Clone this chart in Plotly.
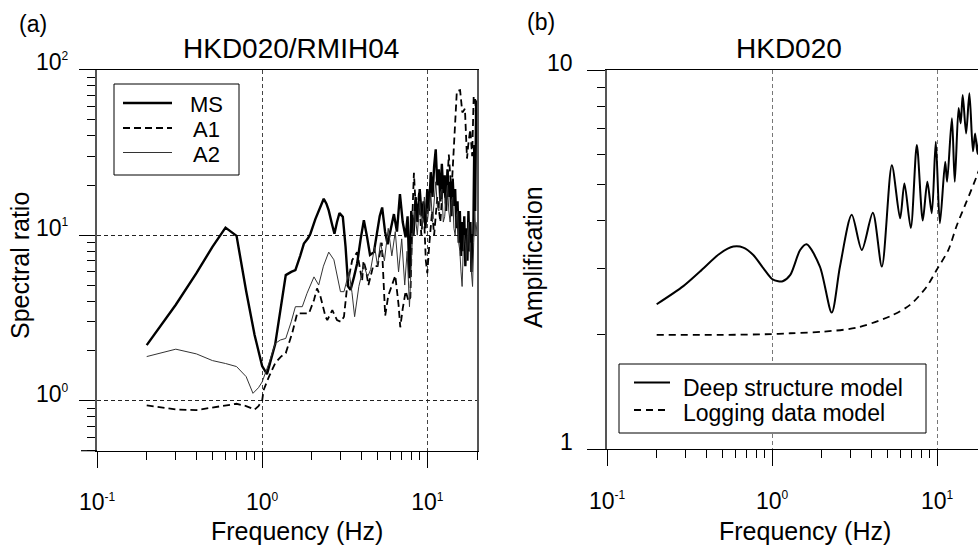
import math
import plotly.graph_objects as go

# ---------------- panel (a): HKD020/RMIH04 spectral ratios ----------------
freq_ms = [0.2, 0.3, 0.4, 0.5, 0.6, 0.7, 0.8, 0.9, 1.0, 1.07, 1.2, 1.3, 1.39, 1.5, 1.59,
           1.7, 1.79, 1.9, 1.96, 2.1, 2.2, 2.36, 2.45, 2.53, 2.64, 2.74, 2.84, 2.94, 3.08,
           3.2, 3.32, 3.43, 3.6, 3.76, 3.95, 4.13, 4.3, 4.5, 4.75, 5.0, 5.15, 5.33, 5.55,
           5.75, 6.0, 6.28, 6.55, 6.83, 7.1, 7.39, 7.6, 7.8, 8.0, 8.25, 8.5, 8.75, 9.0,
           9.25, 9.5, 9.75, 10.0, 10.25, 10.5, 10.75, 11.0, 11.25, 11.5, 11.75, 12.0,
           12.25, 12.5, 12.75, 13.0, 13.25, 13.5, 13.75, 14.0, 14.25, 14.5, 14.75, 15.0,
           15.25, 15.5, 15.75, 16.0, 16.25, 16.5, 16.75, 17.0, 17.25, 17.5, 17.75, 18.0,
           18.25, 18.5, 18.75, 19.0, 19.25, 19.5, 19.75, 20.0]
ms = [2.17, 3.8, 5.9, 8.5, 11.1, 9.9, 4.6, 2.5, 1.62, 1.45, 2.2, 3.6, 5.74, 6.0, 6.15,
      7.5, 8.9, 9.6, 10.2, 12.5, 14.1, 16.6, 15.5, 14.1, 11.8, 10.2, 12.0, 13.6, 12.9,
      8.5, 4.9, 4.67, 5.6, 6.75, 9.5, 12.3, 10.0, 7.6, 7.9, 10.5, 13.0, 14.7, 10.5,
      8.8, 11.0, 13.4, 10.5, 17.7, 12.0, 9.7, 13.0, 5.5, 14.0, 10.0, 17.0, 12.0, 19.0,
      13.0, 16.0, 11.0, 19.0, 14.0, 24.0, 17.0, 26.0, 33.0, 20.0, 25.0, 16.0,
      27.0, 18.0, 23.0, 14.0, 25.0, 17.0, 21.0, 13.0, 22.0, 15.0, 19.0, 11.0,
      16.0, 9.0, 14.0, 7.5, 12.0, 8.0, 13.0, 6.5, 11.0, 7.0, 14.0, 8.0,
      12.0, 6.0, 10.0, 10.0, 35.0, 14.0, 60.0, 65.0]

freq_a1 = [0.2, 0.3, 0.4, 0.5, 0.6, 0.7, 0.8, 0.9, 0.95, 1.0, 1.02, 1.1, 1.2, 1.3, 1.39,
           1.52, 1.63, 1.75, 1.92, 2.06, 2.15, 2.25, 2.42, 2.48, 2.66, 2.84, 3.0, 3.13,
           3.27, 3.51, 3.76, 4.03, 4.11, 4.25, 4.4, 4.7, 5.0, 5.3, 5.56, 5.8, 6.1, 6.4,
           6.7, 6.86, 7.1, 7.4, 7.7, 7.9, 8.1, 8.3, 8.6, 8.9, 9.2, 9.5, 9.8, 10.0, 10.3,
           10.7, 11.0, 11.5, 12.0, 12.5, 13.0, 13.5, 14.0, 14.5, 15.1, 15.8, 16.3, 16.9,
           17.4, 17.7, 18.2, 18.7, 19.1, 19.5, 20.0]
a1 = [0.94, 0.886, 0.88, 0.91, 0.94, 0.96, 0.93, 0.886, 0.93, 1.0, 1.16, 1.4, 1.69, 1.85, 1.94,
      2.56, 3.37, 3.37, 3.37, 4.06, 4.77, 4.3, 3.22, 3.07, 3.53, 3.07, 3.0, 3.22,
      4.9, 7.07, 7.9, 5.3, 7.0, 6.2, 5.0, 6.5, 6.5, 9.0, 3.26, 4.3, 5.0, 5.7,
      3.8, 2.78, 3.6, 4.6, 4.0, 4.2, 12.0, 23.8, 12.0, 18.0, 10.0, 15.0, 7.0, 5.9, 9.0,
      14.0, 10.0, 17.0, 12.0, 22.0, 15.0, 30.7, 18.0, 35.0, 74.0, 75.0, 55.0, 58.0,
      29.0, 35.0, 43.5, 30.0, 69.0, 67.0, 40.0]

freq_a2 = [0.2, 0.3, 0.4, 0.5, 0.6, 0.7, 0.8, 0.88, 0.95, 1.0, 1.1, 1.2, 1.29, 1.39, 1.5,
           1.59, 1.75, 1.87, 2.06, 2.2, 2.35, 2.53, 2.72, 2.85, 2.98, 3.13, 3.36, 3.5,
           3.63, 3.85, 4.13, 4.35, 4.54, 4.8, 5.0, 5.2, 5.5, 5.8, 6.1, 6.4, 6.7, 7.0,
           7.3, 7.55, 7.8, 8.1, 8.4, 8.7, 9.0, 9.3, 9.6, 10.0, 10.25, 10.5, 10.75, 11.0,
           11.25, 11.5, 11.75, 12.0, 12.25, 12.5, 12.75, 13.0, 13.25, 13.5, 13.75, 14.0,
           14.25, 14.5, 14.75, 15.0, 15.25, 15.5, 15.75, 16.0, 16.25, 16.5, 16.75, 17.0,
           17.25, 17.5, 17.75, 18.0, 18.25, 18.5, 18.8, 19.1, 19.4, 19.7, 20.0]
a2 = [1.85, 2.05, 1.92, 1.75, 1.68, 1.61, 1.4, 1.11, 1.2, 1.3, 1.69, 2.22, 2.33, 2.38, 3.0,
      3.7, 3.7, 4.46, 5.6, 5.0, 6.5, 7.9, 7.1, 5.5, 4.56, 4.56, 6.0, 4.5,
      3.22, 4.9, 6.6, 5.6, 6.2, 8.5, 6.5, 9.0, 7.0, 11.0, 7.5, 10.5, 6.0, 9.5,
      5.0, 8.0, 3.7, 9.0, 14.0, 10.0, 16.0, 11.0, 17.0, 12.0, 15.0, 18.0, 12.0, 16.0,
      21.0, 15.0, 14.0, 18.0, 19.0, 12.0, 13.0, 17.0, 20.0, 14.0, 12.0, 16.0,
      17.0, 11.0, 10.0, 13.0, 14.0, 9.0, 8.0, 6.0, 4.9, 8.0, 10.0, 9.0,
      7.0, 10.0, 12.0, 8.0, 9.0, 6.0, 4.9, 9.0, 14.0, 10.0, 12.0]

# ---------------- panel (b): HKD020 amplification ----------------
freq_deep = [0.2, 0.29, 0.366, 0.484, 0.583, 0.67, 0.77, 0.885, 1.0, 1.09, 1.16, 1.29,
             1.48, 1.62, 1.95, 2.3, 2.58, 3.04, 3.5, 4.08, 4.63, 5.32, 5.97, 6.34, 6.93,
             7.54, 8.19, 8.73, 9.29, 9.82, 10.4, 11.2, 11.5, 12.3, 12.8, 13.5, 13.9,
             14.3, 15.0, 15.7, 16.5, 17.0, 17.6, 18.2]
deep = [2.41, 2.69, 2.94, 3.28, 3.42, 3.40, 3.25, 3.0, 2.81, 2.77, 2.77, 2.88,
        3.35, 3.47, 3.03, 2.29, 3.03, 4.15, 3.35, 4.2, 3.03, 5.61, 4.06, 5.02, 3.83,
        6.34, 4.01, 5.07, 4.19, 6.47, 3.94, 5.73, 5.07, 7.46, 5.07, 7.94, 7.23,
        8.59, 6.8, 8.68, 6.1, 6.8, 6.0, 7.5]

freq_log = [0.2, 0.5, 1.0, 1.29, 2.05, 3.26, 5.19, 6.86, 8.65, 9.95, 11.7, 13.2, 15.1, 17.4, 20.0]
logging = [2.0, 2.0, 2.01, 2.02, 2.04, 2.09, 2.24, 2.4, 2.68, 2.97, 3.35, 3.9, 4.5, 5.25, 6.2]

# ---------------- tick labels ----------------
SUP = '<sup><span style="font-size:12px">{}</span></sup>'
x_tickvals = [0.1, 1, 10]
x_ticktext = ['10' + SUP.format('-1'), '10' + SUP.format('0'), '10' + SUP.format('1')]
ya_tickvals = [1, 10, 100]
ya_ticktext = ['10' + SUP.format('0'), '10' + SUP.format('1'), '10' + SUP.format('2')]
yb_tickvals = [1, 10]
yb_ticktext = ['1', '10']

x_minor = [0.2, 0.3, 0.4, 0.5, 0.6, 0.7, 0.8, 0.9, 2, 3, 4, 5, 6, 7, 8, 9, 20]
ya_minor = [0.5, 0.6, 0.7, 0.8, 0.9, 2, 3, 4, 5, 6, 7, 8, 9, 20, 30, 40, 50, 60, 70, 80, 90]
yb_minor = [2, 3, 4, 5, 6, 7, 8, 9]

legend_a_names = ['MS', 'A1', 'A2']
legend_b_names = ['Deep structure model', 'Logging data model']

FONT = "Liberation Sans, Arial, Helvetica, sans-serif"
W, H = 978, 548

style_ms = dict(color='black', width=2.4)
style_a1 = dict(color='black', width=1.8, dash='7px,4px')
style_a2 = dict(color='#333', width=1)
style_deep = dict(color='black', width=2, shape='spline', smoothing=0.8)
style_log = dict(color='black', width=1.8, dash='7px,5px', shape='spline', smoothing=0.8)

fig = go.Figure()
fig.add_trace(go.Scatter(x=freq_ms, y=ms, mode='lines', name=legend_a_names[0], line=style_ms,
                         xaxis='x', yaxis='y'))
fig.add_trace(go.Scatter(x=freq_a1, y=a1, mode='lines', name=legend_a_names[1], line=style_a1,
                         xaxis='x', yaxis='y'))
fig.add_trace(go.Scatter(x=freq_a2, y=a2, mode='lines', name=legend_a_names[2], line=style_a2,
                         xaxis='x', yaxis='y'))
fig.add_trace(go.Scatter(x=freq_deep, y=deep, mode='lines', name=legend_b_names[0], line=style_deep,
                         xaxis='x2', yaxis='y2'))
fig.add_trace(go.Scatter(x=freq_log, y=logging, mode='lines', name=legend_b_names[1], line=style_log,
                         xaxis='x2', yaxis='y2'))


def xaxis_style(domain, rng, gridcolor, anchor):
    return dict(type='log', domain=domain, range=rng, anchor=anchor, showline=True,
                linecolor='black', linewidth=1.2, mirror=True,
                ticks='outside', ticklen=16, tickwidth=1.2, tickcolor='black',
                tickmode='array', tickvals=x_tickvals, ticktext=x_ticktext,
                tickfont=dict(size=23, color='black', family=FONT), ticklabelstandoff=15,
                showgrid=True, gridcolor=gridcolor, griddash='4px,3px', gridwidth=1,
                zeroline=False, automargin=False, fixedrange=True,
                minor=dict(ticks='outside', ticklen=8, tickwidth=1.2, tickcolor='black',
                           tickmode='array', tickvals=x_minor, showgrid=False))


def yaxis_style(domain, rng, anchor, tickvals, minor_vals, ticklen, grid, mirror):
    return dict(type='log', domain=domain, range=rng, anchor=anchor, showline=True,
                linecolor='#555', linewidth=1.5, mirror=mirror,
                ticks='outside', ticklen=ticklen, tickwidth=1.2, tickcolor='black',
                tickmode='array', tickvals=tickvals, showticklabels=False,
                showgrid=grid, gridcolor='#222', griddash='4px,3px', gridwidth=1,
                zeroline=False, automargin=False, fixedrange=True,
                minor=dict(ticks='outside', ticklen=8, tickwidth=1.2, tickcolor='black',
                           tickmode='array', tickvals=minor_vals, showgrid=False))


fig.update_layout(
    width=W, height=H, autosize=False, template='none', showlegend=False,
    margin=dict(l=0, r=0, t=0, b=0, pad=0),
    paper_bgcolor='white', plot_bgcolor='white',
    font=dict(family=FONT, color='black'),
    xaxis=xaxis_style([97 / W, 477 / W], [-1, math.log10(20)], '#444', 'y'),
    xaxis2=xaxis_style([607 / W, 1.0], [-1, 1.248], '#777', 'y2'),
    yaxis=yaxis_style([(H - 450.7) / H, (H - 69.5) / H], [math.log10(0.5), 2], 'x',
                      ya_tickvals, ya_minor, 16, True, True),
    yaxis2=yaxis_style([(H - 449) / H, (H - 70) / H], [0, 1], 'x2',
                       yb_tickvals, yb_minor, 18, False, False),
)

# y tick labels, placed slightly above each tick (as in the reference)
for v, t in zip(ya_tickvals, ya_ticktext):
    fig.add_annotation(text=t, x=0, y=math.log10(v), xref='x domain', yref='y', xanchor='right',
                       yanchor='middle', xshift=-26, yshift=7, showarrow=False,
                       font=dict(size=23, family=FONT, color='black'))
for v, t in zip(yb_tickvals, yb_ticktext):
    fig.add_annotation(text=t, x=0, y=math.log10(v), xref='x2 domain', yref='y2', xanchor='right',
                       yanchor='middle', xshift=-32, yshift=7, showarrow=False,
                       font=dict(size=23, family=FONT, color='black'))

# left-panel bottom frame extension
fig.add_shape(type='line', xref='x domain', yref='y domain', x0=-16 / 380, x1=0, y0=0, y1=0,
              line=dict(color='black', width=1.2))


def px(x):
    return x / W


def py(y):
    return 1 - y / H


# legend (a): box, line samples and labels
fig.add_shape(type='rect', xref='paper', yref='paper', x0=px(114), x1=px(239), y0=py(175), y1=py(84),
              line=dict(color='black', width=1), fillcolor='white', layer='above')
for name, st, yy in zip(legend_a_names, [style_ms, style_a1, style_a2], [103, 128, 152.5]):
    ln = dict(color=st['color'], width=st['width'])
    if 'dash' in st:
        ln['dash'] = st['dash']
    fig.add_shape(type='line', xref='paper', yref='paper', x0=px(123), x1=px(172), y0=py(yy), y1=py(yy),
                  line=ln, layer='above')
    fig.add_annotation(text=name, x=px(206), y=py(yy + 1.5), xref='paper', yref='paper',
                       xanchor='center', yanchor='middle', showarrow=False,
                       font=dict(size=22, family=FONT, color='black'))

# legend (b)
fig.add_shape(type='rect', xref='paper', yref='paper', x0=px(619), x1=px(926), y0=py(433), y1=py(364),
              line=dict(color='black', width=1), fillcolor='white', layer='above')
for name, st, yy, ty in zip(legend_b_names, [style_deep, style_log], [382.5, 410], [386, 411]):
    ln = dict(color=st['color'], width=st['width'])
    if 'dash' in st:
        ln['dash'] = st['dash']
    fig.add_shape(type='line', xref='paper', yref='paper', x0=px(634), x1=px(670), y0=py(yy), y1=py(yy),
                  line=ln, layer='above')
    fig.add_annotation(text=name, x=px(681), y=py(ty + 2), xref='paper', yref='paper',
                       xanchor='left', yanchor='middle', showarrow=False,
                       font=dict(size=23, family=FONT, color='black'))

annos = [
    dict(text='(a)', x=33, y=24, size=23),
    dict(text='HKD020/RMIH04', x=291, y=48, size=28),
    dict(text='(b)', x=541, y=22, size=23),
    dict(text='HKD020', x=789, y=48, size=28),
    dict(text='Frequency (Hz)', x=297, y=531, size=25),
    dict(text='Frequency (Hz)', x=805, y=531, size=25),
]
for a in annos:
    fig.add_annotation(text=a['text'], x=px(a['x']), y=py(a['y']), xref='paper', yref='paper',
                       xanchor='center', yanchor='middle', showarrow=False,
                       font=dict(size=a['size'], family=FONT, color='black'))
fig.add_annotation(text='Spectral ratio', x=px(20), y=py(266), xref='paper', yref='paper',
                   xanchor='center', yanchor='middle', showarrow=False, textangle=-90,
                   font=dict(size=25, family=FONT, color='black'))
fig.add_annotation(text='Amplification', x=px(533), y=py(257), xref='paper', yref='paper',
                   xanchor='center', yanchor='middle', showarrow=False, textangle=-90,
                   font=dict(size=25, family=FONT, color='black'))

fig.write_html("out.html", config={'displayModeBar': False, 'staticPlot': False},
               post_script="document.body.style.margin='0px';document.body.style.overflow='hidden';")
